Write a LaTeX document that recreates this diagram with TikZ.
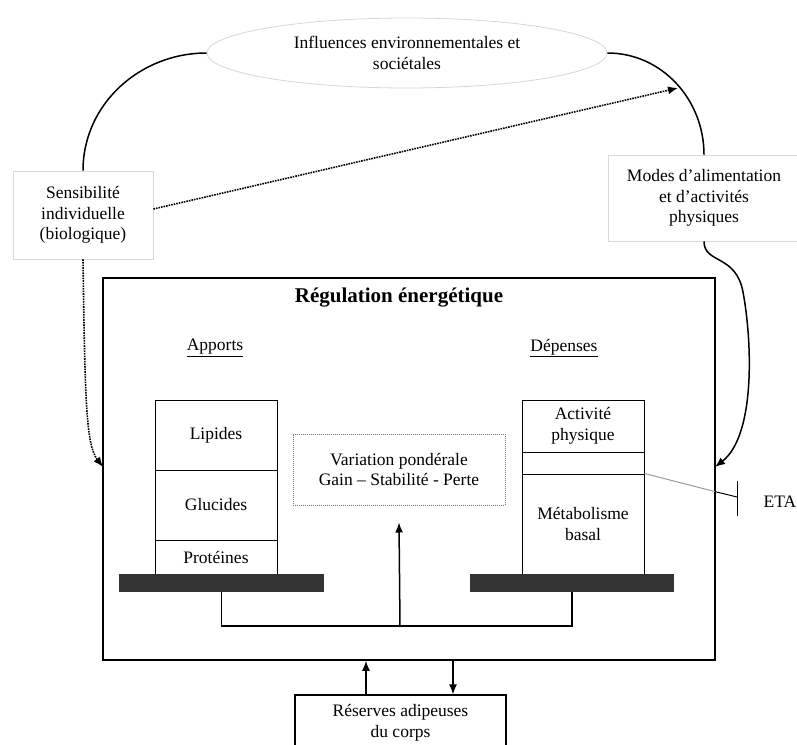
\documentclass[tikz,border=0pt]{standalone}
\usepackage{fontspec}
\setmainfont{Liberation Serif}
\usetikzlibrary{shapes.geometric,arrows.meta,calc}
\begin{document}
\begin{tikzpicture}[x=1pt,y=-1pt,
  every node/.style={font=\fontsize{17.5}{20.5}\selectfont, align=center, inner sep=0pt},
  lightbox/.style={draw=black!15, line width=0.8pt, rectangle},
  stackbox/.style={draw=black, line width=1pt, rectangle, minimum width=122pt},
  barbox/.style={fill=black!80, draw=none, rectangle, minimum height=18pt},
  arr/.style={-{Latex[length=10pt,width=8pt]}, line width=1.5pt},
  dotarr/.style={-{Latex[length=10pt,width=8pt]}, line width=1.6pt, densely dotted},
  curve/.style={line width=1.5pt}]
\useasboundingbox (0,0) rectangle (797,744);
\clip (0,0) rectangle (797,744);

% top nodes
\node[ellipse, draw=black!16, line width=0.8pt, minimum width=400pt, minimum height=70pt] (ell) at (407,53) {Influences environnementales et\\sociétales};
\node[lightbox, minimum width=140pt, minimum height=88pt] (sens) at (83,215) {Sensibilité\\individuelle\\(biologique)};
\node[lightbox, minimum width=192pt, minimum height=86pt] (modes) at (704,198) {Modes d'alimentation\\et d'activités\\physiques};

% main box
\node[draw=black, line width=1.5pt, rectangle, minimum width=612pt, minimum height=382pt] (main) at (409,469) {};
\node[font=\fontsize{21}{25}\selectfont\bfseries] (title) at (399,298) {Régulation énergétique};
\node (apports) at (215,348) {\underline{Apports}};
\node (depenses) at (564,348) {\underline{Dépenses}};

% left stack
\node[stackbox, minimum height=70pt] (lip) at (216,435) {Lipides};
\node[stackbox, minimum height=70pt] (glu) at (216,505) {Glucides};
\node[stackbox, minimum height=34pt] (pro) at (216,557) {Protéines};
\node[barbox, minimum width=205pt] (lbar) at (221.5,583) {};

% right stack
\node[stackbox, minimum height=52pt] (act) at (583,426) {Activité\\physique};
\node[stackbox, minimum height=22pt] (blank) at (583,463) {};
\node[stackbox, minimum height=100pt] (met) at (583,524) {Métabolisme\\basal};
\node[barbox, minimum width=204pt] (rbar) at (572,583) {};

% variation box
\node[draw=black!55, densely dotted, line width=1pt, rectangle, minimum width=212pt, minimum height=71pt] (var) at (399,469.5) {Variation pondérale\\Gain -- Stabilité - Perte};

% reserves
\node[draw=black, line width=1.3pt, rectangle, minimum width=211pt, minimum height=56pt] (res) at (400.5,723) {Réserves adipeuses\\du corps};

% ETA
\coordinate (etaT) at (737,497);
\coordinate (etaX) at (715,491.6);
\node (eta) at (780,502) {ETA};
\draw[black!40, line width=1pt] (met.north east) -- (etaX);
\draw[black, line width=1pt] (etaX) -- (etaT);
\draw[black, line width=1pt] (737,481) -- (737,516);

% curves from ellipse
\draw[curve] (ell.west) to[out=180,in=90] (sens.north);
\draw[curve] (ell.east) to[out=0,in=90] (modes.north);
\coordinate (arcpt) at (678,88);
\draw[dotarr] ($(sens.east)+(0,-6)$) -- (arcpt);

% left dotted arrow into main
\coordinate (mainL) at (103,467);
\draw[dotarr] (sens.south) .. controls (85,400) and (86,445) .. (mainL);

% right curve into main
\coordinate (mainR) at (715,467);
\draw[arr] (modes.south) .. controls (704,264) and (736,254) .. (743,292) .. controls (752,340) and (756,435) .. (mainR);

% balance connector
\coordinate (cm) at (400,626);
\draw[line width=1.3pt] (lbar.south) -- (lbar.south |- cm) -- (rbar.south |- cm) -- (rbar.south);
\draw[arr] (cm) -- ($(var.south)+(0,17)$);

% reserves arrows
\draw[arr] (res.north -| 366,0) -- (main.south -| 366,0);
\draw[arr] (main.south -| 453,0) -- (res.north -| 453,0);
\end{tikzpicture}
\end{document}
